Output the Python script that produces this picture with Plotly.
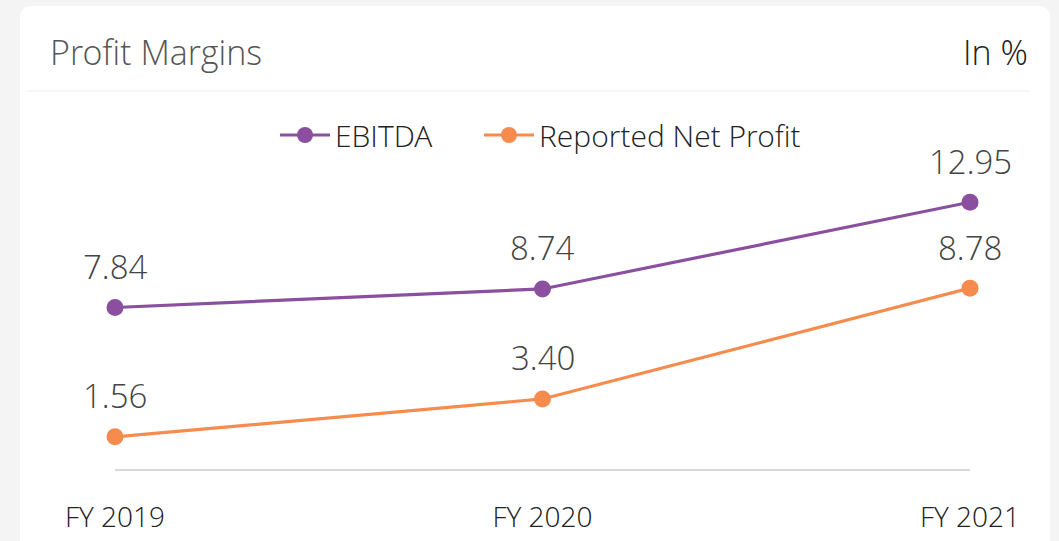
import plotly.graph_objects as go

categories = ["FY 2019", "FY 2020", "FY 2021"]
ebitda = [7.84, 8.74, 12.95]
net_profit = [1.56, 3.40, 8.78]
ebitda_labels = ["7.84", "8.74", "12.95"]
net_labels = ["1.56", "3.40", "8.78"]

W, H = 1059, 541
L, R, T, B = 115, 89, 160, 72
PW, PH = W - L - R, H - T - B

def px(x):
    return (x - L) / PW

def py(y):
    return (H - B - y) / PH

FONT = "Segoe UI Light, Open Sans Light, Noto Sans Light, Lato Light, Open Sans, Noto Sans"
PURPLE = "#8B4F9F"
ORANGE = "#F58C4E"
xs = list(range(len(categories)))

fig = go.Figure()
fig.add_trace(go.Scatter(x=xs, y=ebitda, mode="lines+markers", name="EBITDA",
                         line=dict(color=PURPLE, width=3.2), legend="legend",
                         marker=dict(color=PURPLE, size=17), cliponaxis=False))
fig.add_trace(go.Scatter(x=xs, y=net_profit, mode="lines+markers", name="Reported Net Profit",
                         line=dict(color=ORANGE, width=3.2), legend="legend2",
                         marker=dict(color=ORANGE, size=17), cliponaxis=False))

annotations = []
for series, labels in ((ebitda, ebitda_labels), (net_profit, net_labels)):
    for x, v, t in zip(xs, series, labels):
        annotations.append(dict(x=x, y=v, text=t, showarrow=False, yshift=41,
                                xanchor="center", yanchor="middle",
                                font=dict(family=FONT, size=33, color="#444444", weight=300)))

annotations.append(dict(x=px(48), y=py(52), xref="paper", yref="paper", text="Profit Margins",
                        showarrow=False, xanchor="left", yanchor="middle",
                        font=dict(family=FONT, size=34, color="#555555", weight=300)))
annotations.append(dict(x=px(1030), y=py(52), xref="paper", yref="paper", text="In %",
                        showarrow=False, xanchor="right", yanchor="middle",
                        font=dict(family=FONT, size=34, color="#222222", weight=300)))

# card shape with rounded top corners
x0, x1, y0, y1, r = 20, 1050, 6, 600, 12
path = (f"M {px(x0)},{py(y1)} L {px(x0)},{py(y0 + r)} Q {px(x0)},{py(y0)} {px(x0 + r)},{py(y0)} "
        f"L {px(x1 - r)},{py(y0)} Q {px(x1)},{py(y0)} {px(x1)},{py(y0 + r)} L {px(x1)},{py(y1)} Z")
shapes = [
    dict(type="path", path=path, xref="paper", yref="paper", fillcolor="white",
         line=dict(width=0), layer="below"),
    dict(type="line", x0=px(28), x1=px(1030), y0=py(91), y1=py(91), xref="paper", yref="paper",
         line=dict(color="#eeeeee", width=1), layer="below"),
]

legend_common = dict(orientation="h", yanchor="middle", xanchor="left", itemwidth=50,
                     font=dict(family=FONT, size=30, color="#222222", weight=300),
                     bgcolor="rgba(0,0,0,0)")

fig.update_layout(
    width=W, height=H,
    margin=dict(l=L, r=R, t=T, b=B, pad=0, autoexpand=False),
    paper_bgcolor="#f4f4f4",
    plot_bgcolor="rgba(0,0,0,0)",
    showlegend=True,
    legend=dict(x=px(275), y=py(135), **legend_common),
    legend2=dict(x=px(479), y=py(135), **legend_common),
    xaxis=dict(range=[0, len(categories) - 1], tickmode="array", tickvals=xs, ticktext=categories,
               showgrid=False, zeroline=False, showline=True, linecolor="#d9d9d9", linewidth=2,
               ticks="", ticklabelstandoff=22,
               tickfont=dict(family=FONT, size=28, color="#222222", weight=300)),
    yaxis=dict(range=[0, 15], visible=False, showgrid=False, zeroline=False),
    annotations=annotations,
    shapes=shapes,
)

fig.write_html("out.html", config={"displayModeBar": False},
               post_script="document.body.style.margin='0';document.body.style.background='#f4f4f4';")
